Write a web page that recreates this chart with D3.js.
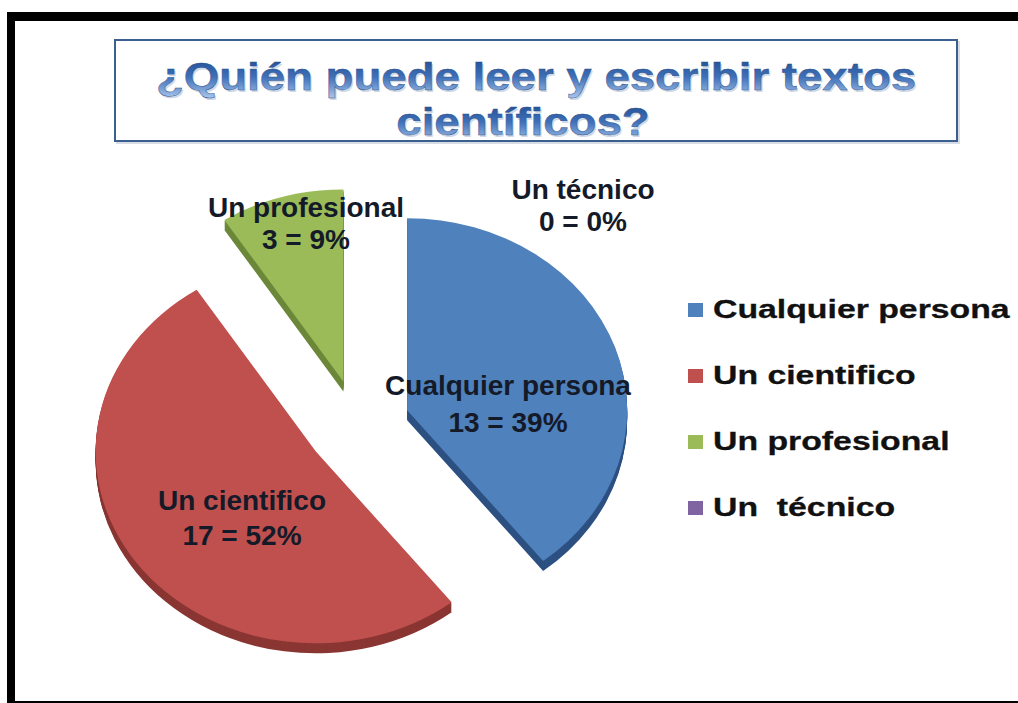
<!DOCTYPE html>
<html><head><meta charset="utf-8">
<script src="https://cdn.jsdelivr.net/npm/d3@7"></script>
<style>html,body{margin:0;padding:0;background:#fff;} svg{display:block;} text{white-space:pre;}</style>
</head><body><svg id="c" width="1018" height="703"></svg>
<script>
// ---- data ----
const titleLines = ["¿Quién puede leer y escribir textos", "científicos?"];
const categories = ["Cualquier persona", "Un cientifico", "Un profesional", "Un técnico"];
const legendLabels = ["Cualquier persona", "Un cientifico", "Un profesional", "Un  técnico"];
const values = [13, 17, 3, 0];

// ---- drawing ----
const svg = d3.select("#c");
const W = 1018, H = 703;
svg.append("rect").attr("width", W).attr("height", H).attr("fill", "#fff");

const color = d3.scaleOrdinal(categories, ["#4f81bd", "#c0504d", "#9bbb59", "#8064a2"]);
const side = d3.scaleOrdinal(categories, ["#2d5182", "#8a3633", "#6c883a", "#5b4676"]);

const defs = svg.append("defs");
const tg = defs.append("linearGradient").attr("id", "tg").attr("x1", 0).attr("y1", 0).attr("x2", 0).attr("y2", 1);
tg.append("stop").attr("offset", "0%").attr("stop-color", "#1d4a8e");
tg.append("stop").attr("offset", "50%").attr("stop-color", "#3f70b8");
tg.append("stop").attr("offset", "100%").attr("stop-color", "#a9c5ec");

// frame
svg.append("rect").attr("x", 7).attr("y", 12).attr("width", W - 7).attr("height", 9).attr("fill", "#000");
svg.append("rect").attr("x", 7).attr("y", 12).attr("width", 8).attr("height", H - 12).attr("fill", "#000");
svg.append("rect").attr("x", 7).attr("y", 701).attr("width", W - 7).attr("height", 2).attr("fill", "#000");

// title box
svg.append("rect").attr("x", 117).attr("y", 42).attr("width", 842).attr("height", 101)
  .attr("fill", "none").attr("stroke", "#d8dde5").attr("stroke-width", 2);
svg.append("rect").attr("x", 115).attr("y", 40).attr("width", 842).attr("height", 101)
  .attr("fill", "#fff").attr("stroke", "#3b5f8e").attr("stroke-width", 2);
const titleBase = [90, 135];
const titleCx = [536, 523];
titleLines.forEach((t, i) => {
  svg.append("text").text(t)
    .attr("transform", `translate(${titleCx[i] + 1.5},${titleBase[i] + 2}) scale(1.2,1)`)
    .attr("text-anchor", "middle").attr("font-family", "Liberation Sans, Arial, sans-serif")
    .attr("font-weight", "bold").attr("font-size", 38).attr("fill", "#cfd8e6");
  svg.append("text").text(t)
    .attr("transform", `translate(${titleCx[i]},${titleBase[i]}) scale(1.2,1)`)
    .attr("text-anchor", "middle").attr("font-family", "Liberation Sans, Arial, sans-serif")
    .attr("font-weight", "bold").attr("font-size", 38).attr("fill", "url(#tg)")
    .attr("stroke", "#2a4f86").attr("stroke-width", 0.4);
});

// pie
const total = d3.sum(values);
const pieData = d3.pie().sort(null).value(d => d)(values);
const R = 220, ky = 192 / 220, explode = 52, depth = 10;
const cx = 358, cy = 425;
const arc = d3.arc().innerRadius(0).outerRadius(R);
const g = svg.append("g").attr("transform", `translate(${cx},${cy}) scale(1,${ky})`);
const slices = pieData.filter(p => p.endAngle - p.startAngle > 0);
const off = p => { const m = (p.startAngle + p.endAngle) / 2; return [Math.sin(m) * explode, -Math.cos(m) * explode]; };
slices.forEach(p => {
  const [ox, oy] = off(p);
  const sg = g.append("g").attr("transform", `translate(${ox},${oy})`);
  for (let k = depth; k >= 1; k--) {
    sg.append("path").attr("d", arc(p)).attr("transform", `translate(0,${k / ky})`)
      .attr("fill", side(categories[p.index]));
  }
});
slices.forEach(p => {
  const [ox, oy] = off(p);
  g.append("path").attr("d", arc(p)).attr("transform", `translate(${ox},${oy})`)
    .attr("fill", color(categories[p.index]));
});

// data labels
const labelLayout = [[508, 395, 432], [242, 510, 545], [306, 217, 249], [583, 199, 231]];
categories.forEach((c, i) => {
  const [lx, y1, y2] = labelLayout[i];
  const pct = Math.round(values[i] / total * 100);
  const lines = [c, `${values[i]} = ${pct}%`];
  [y1, y2].forEach((yy, j) => {
    svg.append("text").text(lines[j]).attr("x", lx).attr("y", yy)
      .attr("text-anchor", "middle").attr("font-family", "Liberation Sans, Arial, sans-serif")
      .attr("font-weight", "bold").attr("font-size", 28).attr("fill", "#141a28");
  });
});

// legend
legendLabels.forEach((l, i) => {
  const by = 318 + i * 66;
  svg.append("rect").attr("x", 688).attr("y", by - 15).attr("width", 15).attr("height", 14)
    .attr("fill", color(categories[i]));
  svg.append("text").text(l).attr("transform", `translate(713,${by}) scale(1.3,1)`)
    .attr("font-family", "Liberation Sans, Arial, sans-serif").attr("font-weight", "bold")
    .attr("font-size", 26).attr("fill", "#111").attr("stroke", "#111").attr("stroke-width", 0.3);
});
</script></body></html>
